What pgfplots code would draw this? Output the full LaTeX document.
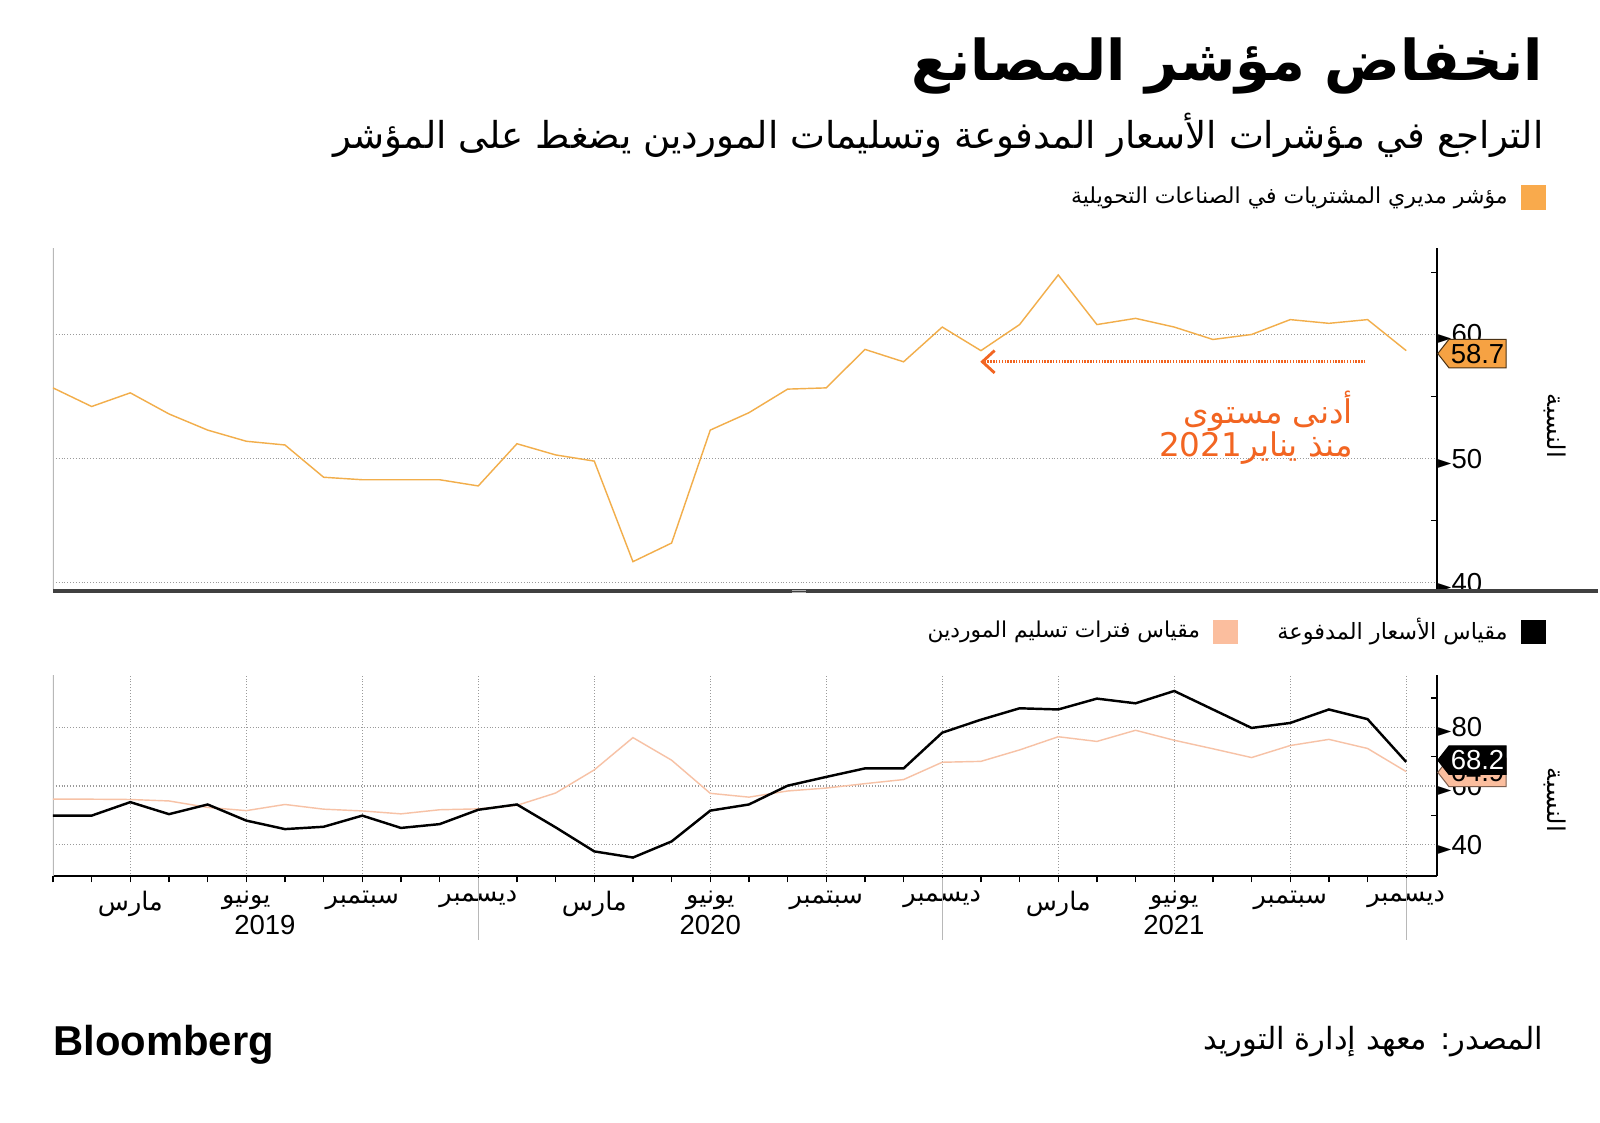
\documentclass[border=0pt]{standalone}
\usepackage{pgfplots}
\pgfplotsset{compat=1.18}
\usepackage{pgfplotstable}
\usepackage{fontspec}
\usetikzlibrary{arrows.meta}
\setmainfont{Liberation Sans}
\newfontfamily\arabicfont[Script=Arabic]{DejaVu Sans}
\newfontfamily\symfont{DejaVu Sans}
\TeXXeTstate=1
\newcommand\ar[1]{{\arabicfont\beginR #1\endR}}
\newcommand\tri{{\symfont\fontsize{8.5}{8}\selectfont ►}}
\definecolor{pmi}{HTML}{F2AE4B}
\definecolor{pmisq}{HTML}{F9AA4C}
\definecolor{pmitag}{HTML}{F6A243}
\definecolor{salmon}{HTML}{F7C2A6}
\definecolor{salmonsq}{HTML}{FBBE9E}
\definecolor{annot}{HTML}{F26522}
\definecolor{gridc}{HTML}{9A9A9A}

\pgfplotstableread{
m pmi
0 55.7
1 54.2
2 55.3
3 53.6
4 52.3
5 51.4
6 51.1
7 48.5
8 48.3
9 48.3
10 48.3
11 47.8
12 51.2
13 50.3
14 49.8
15 41.7
16 43.2
17 52.3
18 53.7
19 55.6
20 55.7
21 58.8
22 57.8
23 60.6
24 58.7
25 60.8
26 64.8
27 60.8
28 61.3
29 60.6
30 59.6
31 60.0
32 61.2
33 60.9
34 61.2
35 58.7
}\pmitable

\pgfplotstableread{
m prices deliv
0 49.9 55.5
1 49.9 55.5
2 54.5 55.4
3 50.4 54.9
4 53.7 52.7
5 48.2 51.6
6 45.3 53.7
7 46.1 52.1
8 49.9 51.5
9 45.7 50.5
10 47.0 51.9
11 51.9 52.2
12 53.7 53.4
13 45.9 57.6
14 37.7 65.5
15 35.6 76.5
16 41.1 68.8
17 51.6 57.5
18 53.7 56.2
19 60.1 58.3
20 63.1 59.3
21 66.0 60.8
22 66.0 62.2
23 78.2 68.1
24 82.6 68.4
25 86.5 72.3
26 86.1 76.8
27 89.8 75.2
28 88.2 79.0
29 92.4 75.6
30 86.1 72.7
31 79.8 69.7
32 81.5 73.8
33 86.1 75.9
34 82.8 72.8
35 68.2 64.9
}\subtable

\pgfplotsset{
  common/.style={
    scale only axis, width=679pt,
    xmin=0, xmax=35.79,
    xtick={2,5,8,11,14,17,20,23,26,29,32,35},
    xmajorgrids, ymajorgrids,
    major grid style={gridc, densely dotted, line width=0.5pt},
    axis line style={black, line width=1pt},
    /pgf/number format/assume math mode=true,
    yticklabel style={font=\fontsize{13.5}{14}\selectfont, inner sep=0pt, xshift=0.5pt},
    yticklabel={\tri\pgfmathprintnumber{\tick}},
    minor tick length=3pt,
    major tick length=0pt,
    minor tick style={black, line width=0.6pt},
  }
}

\begin{document}
\begin{tikzpicture}[x=0.5pt,y=0.5pt]
\fill[white] (0,0) rectangle (1568,-1102);

% titles
\node[anchor=east, inner sep=0pt] at (1515,-65) {\fontsize{27.6}{32}\selectfont\arabicfont\bfseries\beginR انخفاض مؤشر المصانع\endR};
\node[anchor=east, inner sep=0pt] at (1515,-133) {\fontsize{18.2}{22}\selectfont\ar{التراجع في مؤشرات الأسعار المدفوعة وتسليمات الموردين يضغط على المؤشر}};

% legend top
\fill[pmisq] (1493,-182) rectangle (1517,-206);
\node[anchor=east, inner sep=0pt] at (1480,-194) {\fontsize{10.8}{13}\selectfont\ar{مؤشر مديري المشتريات في الصناعات التحويلية}};

% top axis
\begin{axis}[common,
  at={(26pt,-121.5pt)}, anchor=north west, height=167.5pt,
  ymin=39.5, ymax=67,
  axis x line=none, axis y line*=right,
  ytick={40,50,60}, minor ytick={45,55,65},
  tick align=inside,
  xticklabels={},
]
\draw[gridc!70, line width=0.8pt] (rel axis cs:0,0) -- (rel axis cs:0,1);
\addplot[pmi, line width=0.7pt] table[x=m, y=pmi] {\pmitable};
\end{axis}

% separator
\draw[black!75, line width=2.2pt] (52,-580) -- (1568,-580);
\draw[gray!60, line width=0.4pt] (777,-579) -- (791,-579);
\draw[gray!60, line width=0.4pt] (777,-581.5) -- (791,-581.5);

% annotation
\draw[annot, line width=1.4pt, dash pattern=on 0.7pt off 0.7pt, -{Straight Barb[length=6pt,width=11pt]}] (1340,-355) -- (962,-355);
\node[anchor=east, inner sep=0pt, text=annot] at (1328,-404) {\fontsize{16}{18}\selectfont\ar{أدنى مستوى}};
\node[anchor=east, inner sep=0pt, text=annot] at (1328,-440) {\fontsize{16}{18}\selectfont\ar{منذ يناير\beginL2021\endL}};

% tag 58.7
\filldraw[fill=pmitag, draw=black!70!pmitag, line width=0.5pt] (1411,-347) -- (1422,-333) -- (1478,-333) -- (1478,-361) -- (1422,-361) -- cycle;
\node[inner sep=0pt] at (1450,-347) {\fontsize{13.5}{14}\selectfont 58.7};

% y labels
\node[rotate=-90, inner sep=0pt] at (1526,-418) {\fontsize{12}{14}\selectfont\ar{النسبة}};
\node[rotate=-90, inner sep=0pt] at (1526,-785) {\fontsize{12}{14}\selectfont\ar{النسبة}};

% legend bottom
\fill[black] (1493,-608) rectangle (1517,-632);
\node[anchor=east, inner sep=0pt] at (1480,-620) {\fontsize{11}{13}\selectfont\ar{مقياس الأسعار المدفوعة}};
\fill[salmonsq] (1190,-608) rectangle (1215,-632);
\node[anchor=east, inner sep=0pt] at (1178,-620) {\fontsize{10.7}{13}\selectfont\ar{مقياس فترات تسليم الموردين}};

% bottom axis
\begin{axis}[common,
  at={(26pt,-331pt)}, anchor=north west, height=99pt,
  ymin=29.2, ymax=98,
  axis x line*=bottom, axis y line*=right,
  ytick={40,60,80},
  extra y ticks={50,70,90}, extra y tick labels={},
  extra y tick style={grid=none, tick align=inside, major tick length=3pt, major tick style={black, line width=0.6pt}},
  minor xtick={0,...,35},
  tick align=outside,
  major tick length=0pt,
  minor tick length=3pt,
  xticklabels={\ar{مارس},\ar{يونيو},\ar{سبتمبر},\ar{ديسمبر},\ar{مارس},\ar{يونيو},\ar{سبتمبر},\ar{ديسمبر},\ar{مارس},\ar{يونيو},\ar{سبتمبر},\ar{ديسمبر}},
  xticklabel style={font=\fontsize{12.5}{14}\selectfont, inner sep=0pt, yshift=-7pt},
]
\draw[gridc!70, line width=0.8pt] (rel axis cs:0,0) -- (rel axis cs:0,1);
\addplot[salmon, line width=0.7pt] table[x=m, y=deliv] {\subtable};
\addplot[black, line width=1.2pt] table[x=m, y=prices] {\subtable};
\end{axis}

% year dividers and labels
\foreach \xx in {469.3,924.7,1380} \draw[gridc!70, line width=0.6pt] (\xx,-862) -- (\xx,-922);
\node[inner sep=0pt] at (260,-908) {\fontsize{13.5}{14}\selectfont 2019};
\node[inner sep=0pt] at (697,-908) {\fontsize{13.5}{14}\selectfont 2020};
\node[inner sep=0pt] at (1152,-908) {\fontsize{13.5}{14}\selectfont 2021};

% tags bottom
\filldraw[fill=salmonsq, draw=black!50!salmonsq, line width=0.5pt] (1411,-758) -- (1422,-744) -- (1478,-744) -- (1478,-772) -- (1422,-772) -- cycle;
\node[inner sep=0pt] at (1450,-758) {\fontsize{13.5}{14}\selectfont 64.9};
\filldraw[fill=black, draw=black, line width=0.5pt] (1411,-746) -- (1422,-732) -- (1478,-732) -- (1478,-760) -- (1422,-760) -- cycle;
\node[inner sep=0pt, text=white] at (1450,-746) {\fontsize{13.5}{14}\selectfont 68.2};

% footer
\node[anchor=west, inner sep=0pt] at (52,-1025) {\fontsize{20.5}{24}\selectfont\bfseries Bloomberg};
\node[anchor=east, inner sep=0pt] at (1515,-1022) {\fontsize{15}{18}\selectfont\ar{المصدر: معهد إدارة التوريد}};
\end{tikzpicture}
\end{document}
